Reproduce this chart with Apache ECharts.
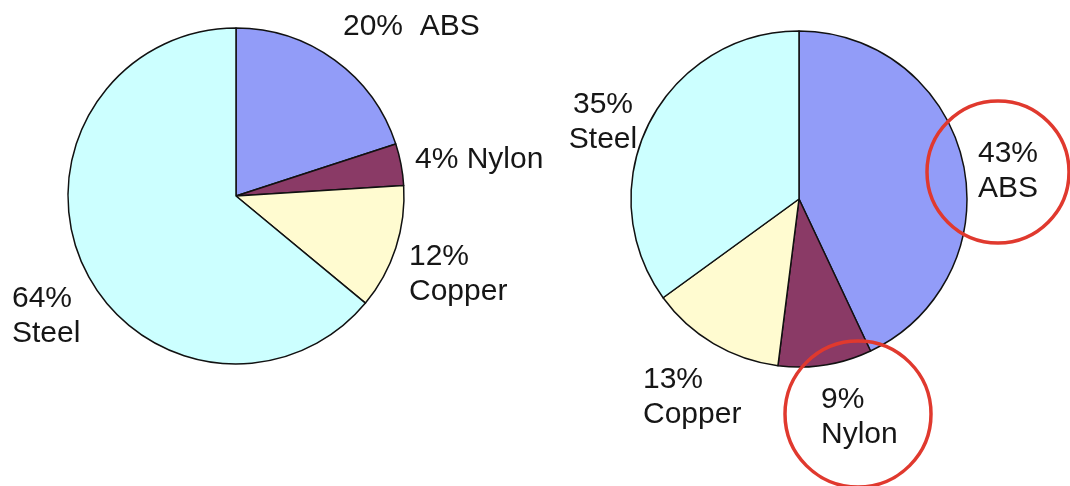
<!DOCTYPE html>
<html>
<head>
<meta charset="utf-8">
<script src="https://cdn.jsdelivr.net/npm/echarts@6/dist/echarts.min.js"></script>
<style>
  html, body { margin: 0; padding: 0; background: #ffffff; }
  #chart { width: 1070px; height: 486px; }
</style>
</head>
<body>
<div id="chart"></div>
<script>
// Material shares (percent) for the two designs
const materials = ['ABS', 'Nylon', 'Copper', 'Steel'];
const shareBefore = [20, 4, 12, 64];
const shareAfter = [43, 9, 13, 35];
const sliceColors = ['#929cf8', '#8a3a66', '#fffbd0', '#ccffff'];

// Label anchors for each slice: [x, y, align]
const labelSpotsBefore = [
  [343, 27, 'left'],
  [415, 160, 'left'],
  [409, 274, 'left'],
  [12, 316, 'left']
];
const labelSpotsAfter = [
  [1008, 171, 'center'],
  [821, 417, 'left'],
  [643, 397, 'left'],
  [603, 122, 'center']
];

// Annotation rings highlighting labels on the second pie
const rings = [
  { cx: 998, cy: 172, r: 71 },
  { cx: 858, cy: 414, r: 73 }
];

const chart = echarts.init(document.getElementById('chart'), null, { renderer: 'canvas' });

function makeData(values, multiLineAll) {
  return materials.map((name, i) => ({
    name: name,
    value: values[i],
    itemStyle: { color: sliceColors[i] },
    label: {
      formatter: (!multiLineAll && i < 2)
        ? (i === 0 ? '{c}%  {b}' : '{c}% {b}')
        : '{c}%\n{b}'
    }
  }));
}

function makeLayout(spots) {
  return function (params) {
    const s = spots[params.dataIndex];
    return { x: s[0], y: s[1], align: s[2], verticalAlign: 'middle' };
  };
}

const baseLabel = {
  show: true,
  position: 'outside',
  color: '#161616',
  fontFamily: "'Liberation Sans', Arial, sans-serif",
  fontSize: 30,
  lineHeight: 35
};

const option = {
  backgroundColor: '#ffffff',
  animation: false,
  series: [
    {
      type: 'pie',
      center: [236, 196],
      radius: 168,
      startAngle: 90,
      clockwise: true,
      avoidLabelOverlap: false,
      emphasis: { disabled: true },
      itemStyle: { borderColor: '#111111', borderWidth: 1.5 },
      label: baseLabel,
      labelLine: { show: false },
      labelLayout: makeLayout(labelSpotsBefore),
      data: makeData(shareBefore, false)
    },
    {
      type: 'pie',
      center: [799, 199],
      radius: 168,
      startAngle: 90,
      clockwise: true,
      avoidLabelOverlap: false,
      emphasis: { disabled: true },
      itemStyle: { borderColor: '#111111', borderWidth: 1.5 },
      label: baseLabel,
      labelLine: { show: false },
      labelLayout: makeLayout(labelSpotsAfter),
      data: makeData(shareAfter, true)
    }
  ],
  graphic: rings.map(c => ({
    type: 'circle',
    shape: { cx: c.cx, cy: c.cy, r: c.r },
    style: { fill: 'none', stroke: '#e0392e', lineWidth: 3.5 },
    z: 100
  }))
};

chart.setOption(option);
</script>
</body>
</html>
